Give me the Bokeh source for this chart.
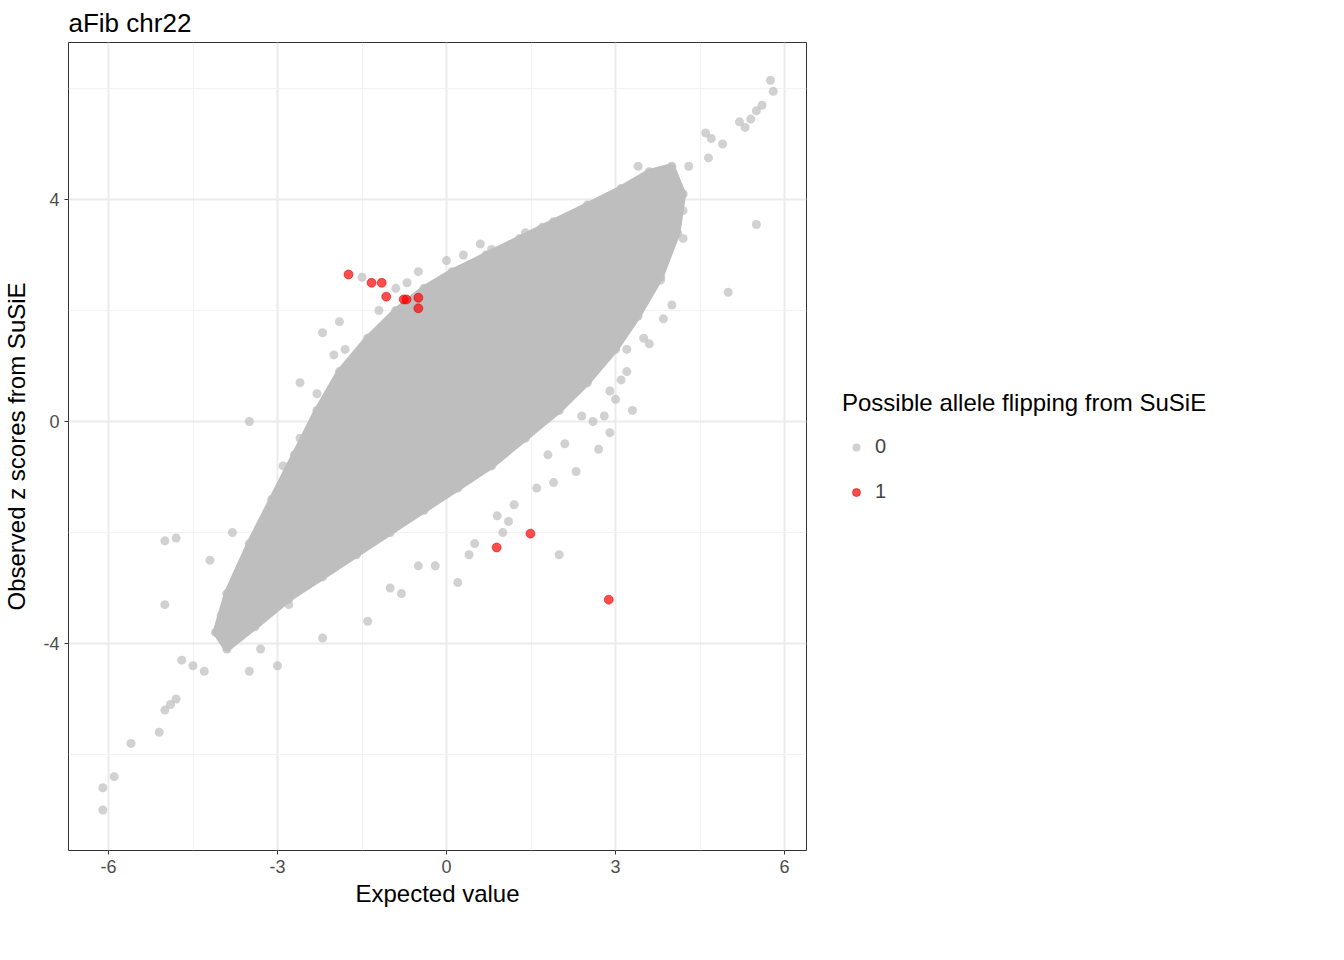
from bokeh.plotting import figure
from bokeh.models import (ColumnDataSource, FixedTicker, Legend, LegendItem, Range1d,
                          CustomJSTickFormatter)
from bokeh.embed import file_html
from bokeh.resources import INLINE

# dense core of the cloud (outline of the solid grey region)
core_x = [-3.9, -3.4, -2.8, -2.2, -1.6, -1.0, -0.4, 0.2, 0.8, 1.4, 2.0, 2.5, 3.0, 3.4, 3.8, 4.1, 4.2,
          4.0, 3.6, 3.1, 2.5, 1.9, 1.3, 0.7, 0.1, -0.4, -0.9, -1.4, -1.9, -2.3, -2.7, -3.1, -3.5, -3.9, -4.1]
core_y = [-4.1, -3.7, -3.2, -2.8, -2.4, -2.0, -1.6, -1.2, -0.8, -0.3, 0.2, 0.7, 1.3, 1.9, 2.6, 3.4, 4.1,
          4.6, 4.5, 4.2, 3.9, 3.6, 3.3, 3.0, 2.7, 2.4, 2.0, 1.5, 0.9, 0.2, -0.6, -1.4, -2.2, -3.1, -3.8]

# scattered points with flag 0
grey_x = [5.75, 5.8, 5.6, 5.5, 5.4, 5.3, 5.2, 4.7, 4.9, 4.6, 4.65, 5.5, 5.0, 4.3, 4.2, 4.0, 3.8, 3.85,
          3.0, 3.2, 3.1, 2.9, 2.8, 3.4, -6.1, -6.1, -5.9, -5.6, -5.1, -5.0, -4.9, -4.8, -4.7, -4.5,
          -4.3, -4.2, -4.0, -5.0, -5.0, -4.8, -3.8, -3.5, -3.9, -3.5, -3.0, -2.6, -3.3, -3.5, -1.5,
          -2.5, -2.6, -1.0, -0.5, 0.2, 1.0, 2.0, 1.6, 2.9, 3.2, -0.5, 0.3, 0.8, 1.7, 2.2, 2.5, -2.2,
          -1.9, -2.0, -2.3, -2.6, -2.9, -3.0, -3.3, -2.8, -2.2, -1.4, -0.8, -0.2, 1.2, 2.3, 2.7, 3.3,
          3.5, 3.7, 3.9, 4.2, -1.2, -0.9, -2.4, -3.1, -1.7, -0.3, 0.5, 1.1, 1.9, 2.6, 3.6, -2.1, -1.1,
          0.0, 0.9, 1.8, 2.4, -3.7, -3.2, -2.7, -1.8, 0.6, 1.4, 2.1, 3.0, 3.9, -0.7, 0.4]
grey_y = [6.15, 5.95, 5.7, 5.6, 5.45, 5.3, 5.4, 5.1, 5.0, 5.2, 4.75, 3.55, 2.33, 4.6, 3.3, 2.1, 2.55, 1.85,
          1.8, 1.3, 0.75, 0.55, 0.1, 4.6, -7.0, -6.6, -6.4, -5.8, -5.6, -5.2, -5.1, -5.0, -4.3, -4.4,
          -4.5, -2.5, -3.5, -3.3, -2.15, -2.1, -2.0, -2.6, -4.0, -4.5, -4.4, -3.0, -4.1, 0.0, 2.6,
          -0.5, 0.7, -3.0, -2.6, -2.9, -2.0, -2.4, -1.2, -0.2, 0.9, 2.7, 3.0, 3.1, 3.5, 3.6, 3.8, 1.6,
          1.8, 1.2, 0.5, -0.3, -0.8, -1.5, -2.0, -3.3, -3.9, -3.6, -3.1, -2.6, -1.5, -0.9, -0.5, 0.2,
          1.5, 2.5, 3.0, 3.8, 2.0, 2.4, -1.2, -2.6, 0.9, 2.4, -2.2, -1.8, -1.1, 0.0, 1.4, -0.1, 1.6,
          2.9, -1.7, -0.6, 0.1, -2.9, -3.4, -1.9, 1.3, 3.2, 3.4, -0.4, 0.4, 3.9, 2.5, -2.4]

# points with flag 1 (possible allele flipping)
red_x = [-1.74, -1.33, -1.15, -1.07, -0.76, -0.71, -0.5, -0.5, 0.89, 1.49, 2.88]
red_y = [2.65, 2.5, 2.5, 2.25, 2.2, 2.2, 2.23, 2.04, -2.27, -2.02, -3.21]

p = figure(frame_width=738, frame_height=808, output_backend="svg", toolbar_location=None,
           x_range=Range1d(-6.71, 6.39), y_range=Range1d(-7.73, 6.83),
           min_border_left=10, min_border_top=10, min_border_bottom=10, min_border_right=10,
           title="aFib chr22")
p.title.text_font = "Liberation Sans"
p.title.text_font_size = "26px"
p.title.text_font_style = "normal"
p.title.text_color = "#000000"
p.title.offset = 0

p.patch(core_x, core_y, fill_color="#BEBEBE", line_color="#BEBEBE", line_width=6)
p.scatter(core_x, core_y, size=9, fill_color="#BEBEBE", line_color=None, fill_alpha=0.8)
g = p.scatter(source=ColumnDataSource(dict(x=grey_x, y=grey_y)), x="x", y="y", size=9,
              fill_color="#BEBEBE", line_color=None, fill_alpha=0.7)
r = p.scatter(source=ColumnDataSource(dict(x=red_x, y=red_y)), x="x", y="y", size=9,
              fill_color="#FF0000", line_color="#CC0000", line_alpha=0.5, fill_alpha=0.7)

fmt = "return tick.toString()"
p.xaxis.ticker = FixedTicker(ticks=[-6, -3, 0, 3, 6], minor_ticks=[-4.5, -1.5, 1.5, 4.5])
p.yaxis.ticker = FixedTicker(ticks=[-4, 0, 4], minor_ticks=[-6, -2, 2, 6])
p.xaxis.formatter = CustomJSTickFormatter(code=fmt)
p.yaxis.formatter = CustomJSTickFormatter(code=fmt)
p.xaxis.axis_label = "Expected value"
p.yaxis.axis_label = "Observed z scores from SuSiE"
for ax in (p.xaxis[0], p.yaxis[0]):
    ax.axis_label_text_font = "Liberation Sans"
    ax.axis_label_text_font_size = "24px"
    ax.axis_label_text_font_style = "normal"
    ax.axis_label_text_color = "#000000"
    ax.major_label_text_font = "Liberation Sans"
    ax.major_label_text_font_size = "18px"
    ax.major_label_text_color = "#4D4D4D"
    ax.axis_line_color = None
    ax.major_tick_in = 0
    ax.major_tick_out = 4
    ax.major_tick_line_color = "#333333"
    ax.minor_tick_in = 0
    ax.minor_tick_out = 0
p.xaxis.axis_label_standoff = 4
p.yaxis.axis_label_standoff = 10
p.yaxis.major_label_orientation = "horizontal"
p.grid.grid_line_color = "#EBEBEB"
p.grid.grid_line_width = 2
p.grid.minor_grid_line_color = "#F2F2F2"
p.grid.minor_grid_line_width = 1
p.outline_line_color = "#333333"
p.outline_line_width = 1

legend = Legend(items=[LegendItem(label="0", renderers=[g]), LegendItem(label="1", renderers=[r])],
                title="Possible allele flipping from SuSiE", location="center_left")
legend.title_text_font = "Liberation Sans"
legend.title_text_font_size = "24px"
legend.title_text_font_style = "normal"
legend.title_text_color = "#000000"
legend.title_standoff = 18
legend.label_text_font = "Liberation Sans"
legend.label_text_font_size = "20px"
legend.border_line_color = None
legend.spacing = 22
legend.margin = 36
legend.padding = 8
legend.glyph_width = 28
p.add_layout(legend, "right")

open("out.html", "w").write(file_html(p, INLINE))
